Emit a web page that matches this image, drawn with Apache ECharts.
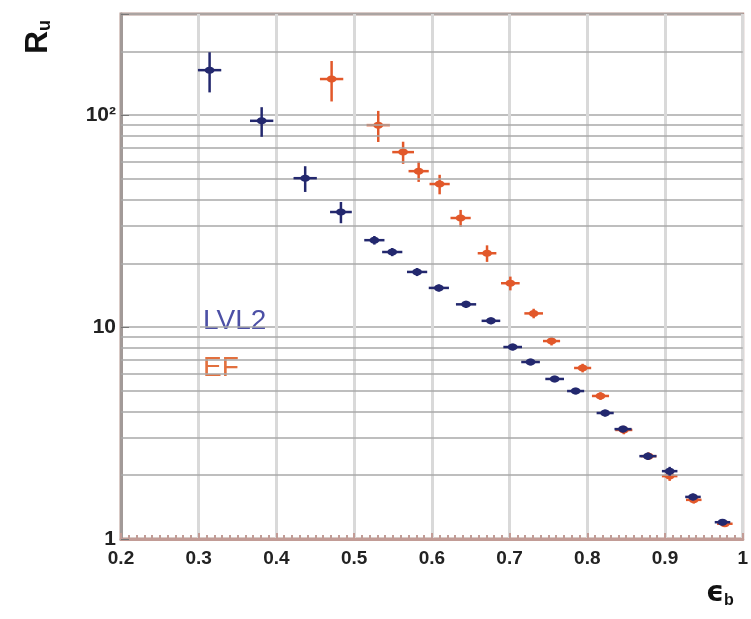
<!DOCTYPE html>
<html>
<head>
<meta charset="utf-8">
<script src="https://cdn.jsdelivr.net/npm/echarts@6/dist/echarts.min.js"></script>
<style>
  html, body { margin: 0; padding: 0; background: #fff; }
  #chart { width: 751px; height: 619px; }
</style>
</head>
<body>
<div id="chart"></div>
<script>
// efficiency (x) and rejection (y)
const lvl2X = [0.314, 0.381, 0.437, 0.483, 0.526, 0.549, 0.581, 0.609, 0.644, 0.676,
               0.704, 0.727, 0.758, 0.785, 0.823, 0.846, 0.878, 0.906, 0.936, 0.974];
const lvl2Y = [163, 94, 50.4, 34.9, 25.7, 22.6, 18.2, 15.3, 12.8, 10.7,
               8.05, 6.84, 5.69, 4.99, 3.93, 3.30, 2.46, 2.09, 1.58, 1.20];
const lvl2YErr = [35, 15, 7, 4, 1.2, 1, 0.8, 0.6, 0.5, 0.4,
                  0.3, 0.25, 0.2, 0.18, 0.15, 0.12, 0.1, 0.1, 0.06, 0.04];
const lvl2XErr = [0.015, 0.015, 0.015, 0.014, 0.013, 0.013, 0.013, 0.013, 0.013, 0.012,
                  0.012, 0.012, 0.012, 0.011, 0.011, 0.011, 0.011, 0.01, 0.01, 0.01];

const efX = [0.471, 0.531, 0.563, 0.583, 0.610, 0.637, 0.671, 0.701, 0.731,
             0.754, 0.794, 0.817, 0.847, 0.879, 0.906, 0.937, 0.977];
const efY = [148, 89.7, 66.9, 54.4, 47.3, 32.7, 22.3, 16.1, 11.6,
             8.59, 6.41, 4.73, 3.27, 2.46, 1.98, 1.53, 1.18];
const efYErr = [32, 15, 8, 6, 5, 3, 2, 1.2, 0.6, 0.4, 0.3, 0.2, 0.15, 0.1, 0.1, 0.06, 0.04];
const efXErr = [0.015, 0.015, 0.014, 0.013, 0.013, 0.013, 0.012, 0.012, 0.012,
                0.011, 0.011, 0.011, 0.011, 0.01, 0.01, 0.01, 0.01];

const xTicks = [0.2, 0.3, 0.4, 0.5, 0.6, 0.7, 0.8, 0.9, 1];
const yMinorLevels = [2, 3, 4, 5, 6, 7, 8, 9, 20, 30, 40, 50, 60, 70, 80, 90, 200];

const blue = '#23286e';
const orange = '#e2582a';

function zip(xs, ys, exs, eys) {
    return xs.map((x, i) => [x, ys[i], exs[i], eys[i]]);
}

function renderErr(color) {
    return function (params, api) {
        const x = api.value(0), y = api.value(1);
        const ex = api.value(2), ey = api.value(3);
        const c = api.coord([x, y]);
        const l = api.coord([x - ex, y]);
        const r = api.coord([x + ex, y]);
        const t = api.coord([x, y + ey]);
        const b = api.coord([x, Math.max(y - ey, 1.001)]);
        const style = { stroke: color, lineWidth: 2.5 };
        return {
            type: 'group',
            children: [
                { type: 'line', shape: { x1: l[0], y1: c[1], x2: r[0], y2: c[1] }, style: style },
                { type: 'line', shape: { x1: c[0], y1: t[1], x2: c[0], y2: b[1] }, style: style },
                { type: 'ellipse', shape: { cx: c[0], cy: c[1], rx: 5, ry: 3.5 }, style: { fill: color } }
            ]
        };
    };
}

const chart = echarts.init(document.getElementById('chart'));

chart.setOption({
    animation: false,
    backgroundColor: '#fff',
    grid: {
        left: 121, right: 7, top: 14, bottom: 80,
        show: true,
        borderColor: '#b4968e',
        borderWidth: 3
    },
    xAxis: {
        type: 'value',
        min: 0.2, max: 1, interval: 0.1,
        axisLine: { show: true, lineStyle: { color: '#c29c96', width: 3 } },
        axisTick: { show: true, inside: true, length: 6, lineStyle: { color: '#c29c96', width: 2 } },
        minorTick: { show: true, splitNumber: 10, length: 4, lineStyle: { color: '#c29c96', width: 2 } },
        splitLine: { show: true, lineStyle: { color: '#d9d9d9', width: 3 } },
        axisLabel: {
            color: '#222', fontFamily: 'Liberation Sans', fontWeight: 'bold', fontSize: 19, margin: 10,
            formatter: v => {
                const t = xTicks.find(k => Math.abs(k - v) < 1e-6);
                return t === undefined ? '' : String(t);
            }
        }
    },
    yAxis: {
        type: 'log',
        logBase: 10,
        min: 1, max: 300,
        axisLine: { show: true, lineStyle: { color: '#a29a98', width: 3 } },
        axisTick: { show: true, inside: true, length: 8, lineStyle: { color: '#777' } },
        splitLine: { show: true, lineStyle: { color: '#a9a9a9', width: 1.5 } },
        axisLabel: {
            color: '#222', fontFamily: 'Liberation Sans', fontWeight: 'bold', fontSize: 21, margin: 5,
            formatter: v => (v === 1 ? '1' : v === 10 ? '10' : v === 100 ? '10²' : '')
        }
    },
    series: [
        {
            type: 'line',
            data: [],
            silent: true,
            markLine: {
                silent: true,
                symbol: 'none',
                label: { show: false },
                lineStyle: { color: '#a9a9a9', width: 1.5, type: 'solid' },
                data: yMinorLevels.map(v => ({ yAxis: v }))
            }
        },
        {
            name: 'LVL2',
            type: 'custom',
            renderItem: renderErr(blue),
            data: zip(lvl2X, lvl2Y, lvl2XErr, lvl2YErr),
            z: 5
        },
        {
            name: 'EF',
            type: 'custom',
            renderItem: renderErr(orange),
            data: zip(efX, efY, efXErr, efYErr),
            z: 4
        }
    ],
    graphic: [
        {
            type: 'text', left: 22, top: 20, rotation: Math.PI / 2,
            style: {
                text: '{r|R}{s|u}',
                rich: {
                    r: { fontFamily: 'Liberation Sans', fontWeight: 'bold', fontSize: 32, fill: '#111' },
                    s: { fontFamily: 'Liberation Sans', fontWeight: 'bold', fontSize: 18, fill: '#111', verticalAlign: 'bottom' }
                }
            }
        },
        {
            type: 'text', left: 706, top: 580,
            style: {
                text: '{e|ϵ}{s|b}',
                rich: {
                    e: { fontFamily: 'DejaVu Sans', fontWeight: 'bold', fontSize: 28, fill: '#111' },
                    s: { fontFamily: 'Liberation Sans', fontWeight: 'bold', fontSize: 16, fill: '#111', padding: [14, 0, 0, 0] }
                }
            }
        },
        {
            type: 'text', left: 203, top: 307,
            style: { text: 'LVL2', fontFamily: 'Liberation Sans', fontSize: 28, fill: '#4c50a6' }
        },
        {
            type: 'text', left: 203, top: 354,
            style: { text: 'EF', fontFamily: 'Liberation Sans', fontSize: 28, fill: '#e2703e' }
        }
    ]
});
</script>
</body>
</html>
